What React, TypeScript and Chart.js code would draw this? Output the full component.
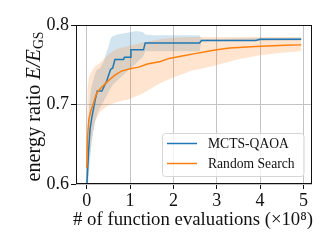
import React, { useEffect, useRef } from 'react';
import { Chart, registerables } from 'chart.js';

Chart.register(...registerables);

const xTicks = [0, 1, 2, 3, 4, 5];
const yTicks = [0.6, 0.7, 0.8];
const seriesNames = ['MCTS-QAOA', 'Random Search'];

const mctsX = [0, 0.045, 0.077, 0.115, 0.14, 0.2, 0.245, 0.35, 0.46, 0.55, 0.6, 0.65, 0.85, 0.87, 1.0, 1.02, 1.31, 1.35, 2.6, 2.65, 3.9, 4.0, 4.95];
const mctsY = [0.595, 0.644, 0.669, 0.683, 0.69, 0.707, 0.717, 0.717, 0.7295, 0.744, 0.746, 0.7566, 0.7566, 0.7595, 0.7595, 0.769, 0.769, 0.7775, 0.7775, 0.7805, 0.7805, 0.782, 0.782];

const mctsBandX = [0, 0.03, 0.06, 0.1, 0.15, 0.2, 0.25, 0.3, 0.35, 0.4, 0.45, 0.5, 0.55, 0.6, 0.7, 0.8, 0.9, 1.0, 1.1, 1.2, 1.3, 1.35, 1.5, 2.0, 2.5, 2.6, 2.65, 3.0, 4.0, 4.95];
const mctsUpper = [0.6, 0.66, 0.7, 0.72, 0.73, 0.74, 0.745, 0.745, 0.75, 0.755, 0.765, 0.772, 0.783, 0.786, 0.788, 0.789, 0.79, 0.791, 0.792, 0.792, 0.791, 0.788, 0.787, 0.787, 0.787, 0.787, 0.7825, 0.7825, 0.7835, 0.784];
const mctsLower = [0.6, 0.6, 0.62, 0.645, 0.665, 0.68, 0.69, 0.695, 0.7, 0.705, 0.71, 0.715, 0.72, 0.725, 0.73, 0.735, 0.74, 0.745, 0.75, 0.755, 0.76, 0.767, 0.767, 0.767, 0.767, 0.767, 0.7795, 0.7795, 0.78, 0.7805];

const randX = [0, 0.02, 0.05, 0.1, 0.15, 0.2, 0.25, 0.35, 0.5, 0.65, 0.8, 1.0, 1.2, 1.4, 1.7, 1.9, 2.2, 2.5, 2.8, 3.0, 3.3, 3.6, 3.9, 4.3, 4.6, 4.95];
const randY = [0.62, 0.66, 0.682, 0.693, 0.7, 0.71, 0.716, 0.722, 0.73, 0.737, 0.742, 0.745, 0.747, 0.751, 0.754, 0.758, 0.761, 0.764, 0.767, 0.769, 0.771, 0.772, 0.773, 0.774, 0.7745, 0.775];

const randBandX = [0, 0.02, 0.05, 0.1, 0.15, 0.2, 0.3, 0.4, 0.5, 0.7, 1.0, 1.3, 1.7, 2.0, 2.4, 2.9, 3.5, 4.0, 4.5, 4.95];
const randUpper = [0.64, 0.72, 0.735, 0.74, 0.745, 0.748, 0.752, 0.758, 0.763, 0.77, 0.774, 0.778, 0.782, 0.784, 0.785, 0.785, 0.785, 0.785, 0.785, 0.785];
const randLower = [0.6, 0.6, 0.625, 0.65, 0.668, 0.68, 0.69, 0.695, 0.699, 0.703, 0.707, 0.714, 0.727, 0.734, 0.742, 0.748, 0.757, 0.762, 0.765, 0.767];

const BLUE = '#1f77b4';
const ORANGE = '#ff7f0e';
const FONT = '"Liberation Serif", "DejaVu Serif", serif';

const pts = (xs: number[], ys: number[]) => xs.map((x, i) => ({ x, y: ys[i] }));

const fitSize = (ctx: any, text: string, target: number, style = '') => {
  ctx.font = `${style}100px ${FONT}`;
  return (100 * target) / ctx.measureText(text).width;
};

const decor = {
  id: 'decor',
  afterDatasetsDraw(chart: any) {
    const { ctx, chartArea: a } = chart;
    ctx.save();
    // legend
    const lx = 162.5, ly = 133.5, lw = 141.5, lh = 43, r = 3;
    ctx.beginPath();
    ctx.moveTo(lx + r, ly);
    ctx.lineTo(lx + lw - r, ly);
    ctx.quadraticCurveTo(lx + lw, ly, lx + lw, ly + r);
    ctx.lineTo(lx + lw, ly + lh - r);
    ctx.quadraticCurveTo(lx + lw, ly + lh, lx + lw - r, ly + lh);
    ctx.lineTo(lx + r, ly + lh);
    ctx.quadraticCurveTo(lx, ly + lh, lx, ly + lh - r);
    ctx.lineTo(lx, ly + r);
    ctx.quadraticCurveTo(lx, ly, lx + r, ly);
    ctx.closePath();
    ctx.fillStyle = 'rgba(255,255,255,0.8)';
    ctx.fill();
    ctx.strokeStyle = '#d6d6d6';
    ctx.lineWidth = 1;
    ctx.stroke();
    const cols = [BLUE, ORANGE];
    const ls = fitSize(ctx, seriesNames[0], 81);
    ctx.font = `${ls}px ${FONT}`;
    ctx.textBaseline = 'middle';
    ctx.textAlign = 'left';
    seriesNames.forEach((name, i) => {
      const yy = 143.5 + i * 20;
      ctx.strokeStyle = cols[i];
      ctx.lineWidth = 1.5;
      ctx.beginPath();
      ctx.moveTo(167, yy);
      ctx.lineTo(197, yy);
      ctx.stroke();
      ctx.fillStyle = '#111';
      ctx.fillText(name, 208, yy + 1);
    });
    // spines
    ctx.strokeStyle = '#111';
    ctx.lineWidth = 1;
    const L = Math.round(a.left) + 0.5, T = Math.round(a.top) + 0.5;
    const R = Math.round(a.right) - 0.5, B = Math.round(a.bottom) - 0.5;
    ctx.strokeRect(L, T, R - L, B - T);
    ctx.restore();
  },
  afterDraw(chart: any) {
    const { ctx } = chart;
    ctx.save();
    ctx.fillStyle = '#111';
    // x title
    const xt = '# of function evaluations (×10⁸)';
    const xs = fitSize(ctx, xt, 240);
    ctx.font = `${xs}px ${FONT}`;
    ctx.textAlign = 'center';
    ctx.textBaseline = 'alphabetic';
    ctx.fillText(xt, 193, 225);
    // y title
    ctx.translate(40, 106.5);
    ctx.rotate(-Math.PI / 2);
    const base = 17;
    const parts = [
      { t: 'energy ratio ', f: `${base}px ${FONT}`, dy: 0 },
      { t: 'E/E', f: `italic ${base}px ${FONT}`, dy: 0 },
      { t: 'GS', f: `${base * 0.68}px ${FONT}`, dy: 3.3 },
    ];
    let total = 0;
    parts.forEach((p) => { ctx.font = p.f; total += ctx.measureText(p.t).width; });
    const k = 150 / total;
    ctx.scale(k, k);
    let x = -total / 2;
    ctx.textAlign = 'left';
    parts.forEach((p) => {
      ctx.font = p.f;
      ctx.fillText(p.t, x, p.dy / k);
      x += ctx.measureText(p.t).width;
    });
    ctx.restore();
  },
};

export default function App() {
  const ref = useRef<HTMLCanvasElement>(null);
  useEffect(() => {
    if (!ref.current) return;
    const lineDs = (data: any, color: string) => ({
      data, borderColor: color, borderWidth: 1.5, pointRadius: 0, fill: false, tension: 0,
    });
    const bandDs = (data: any, fill: any, bg: string) => ({
      data, borderWidth: 0, borderColor: 'rgba(0,0,0,0)', pointRadius: 0, fill, backgroundColor: bg, tension: 0,
    });
    const chart = new Chart(ref.current, {
      type: 'line',
      data: {
        datasets: [
          { label: seriesNames[1], ...lineDs(pts(randX, randY), ORANGE) },
          { label: seriesNames[0], ...lineDs(pts(mctsX, mctsY), BLUE) },
          bandDs(pts(randBandX, randUpper), '+1', 'rgba(255,127,14,0.2)'),
          bandDs(pts(randBandX, randLower), false, 'rgba(0,0,0,0)'),
          bandDs(pts(mctsBandX, mctsUpper), '+1', 'rgba(31,119,180,0.2)'),
          bandDs(pts(mctsBandX, mctsLower), false, 'rgba(0,0,0,0)'),
        ] as any,
      },
      options: {
        responsive: false,
        animation: false,
        devicePixelRatio: 1,
        layout: { padding: { top: 25, right: 20, left: 0, bottom: 0 } },
        plugins: { legend: { display: false }, tooltip: { enabled: false } },
        scales: {
          x: {
            type: 'linear',
            min: -0.2475,
            max: 5.1975,
            afterBuildTicks: (s: any) => { s.ticks = xTicks.map((v) => ({ value: v })); },
            afterFit: (s: any) => { s.height = 65; },
            grid: { color: '#c4c4c4', lineWidth: 1, tickColor: '#111', tickLength: 5, drawTicks: true },
            border: { display: false },
            ticks: { color: '#111', font: { family: FONT, size: 18 }, padding: 1, maxRotation: 0, callback: (v: any) => String(v) },
          },
          y: {
            type: 'linear',
            min: 0.6,
            max: 0.8,
            afterBuildTicks: (s: any) => { s.ticks = yTicks.map((v) => ({ value: v })); },
            afterFit: (s: any) => { s.width = 76; },
            grid: { color: '#c4c4c4', lineWidth: 1, tickColor: '#111', tickLength: 5, drawTicks: true },
            border: { display: false },
            ticks: { color: '#111', font: { family: FONT, size: 18 }, padding: 2, callback: (v: any) => Number(v).toFixed(1) },
          },
        },
      },
      plugins: [decor],
    });
    return () => chart.destroy();
  }, []);
  return (
    <div style={{ position: 'absolute', left: 0, top: 0, width: 332, height: 249, background: '#fff' }}>
      <canvas ref={ref} width={332} height={249} style={{ width: 332, height: 249, display: 'block' }} />
    </div>
  );
}
